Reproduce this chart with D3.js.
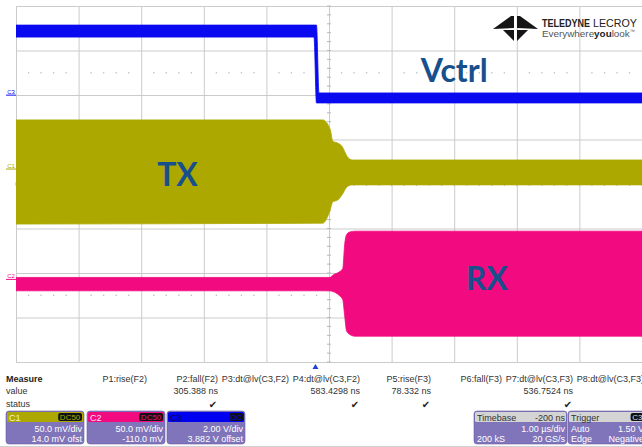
<!DOCTYPE html>
<html><head><meta charset="utf-8">
<script src="https://cdn.jsdelivr.net/npm/d3@7"></script>
<style>body{margin:0;background:#fff}svg{display:block}</style>
</head><body><svg id="c" width="642" height="447"></svg>
<script>
// ---------------- data ----------------
// C3 (Vctrl), volts
const timeC3 = [-4.80, -0.04, 0.00, 0.04, 5.20];
const c3Hi   = [3.26, 3.26, 3.26, 0.21, 0.21];
const c3Lo   = [2.72, 2.72, -0.24, -0.24, -0.24];
// C1 (TX), mV envelope
const timeC1 = [-4.80, 0.10, 0.22, 0.26, 0.34, 0.41, 0.49, 0.57, 5.20];
const c1Hi   = [58, 58, 47, 34, 32, 28, 17, 13, 13];
const c1Lo   = [-59, -58, -43, -34, -32, -26, -17, -15, -15];
// C2 (RX), mV envelope
const timeC2 = [-4.80, 0.21, 0.27, 0.36, 0.42, 0.45, 0.48, 0.53, 0.62, 5.20];
const c2Hi   = [5, 5, 8, 11, 15, 42, 53, 56, 57, 57];
const c2Lo   = [-10, -10, -11, -15, -20, -38, -55, -59, -61, -61];

const channelNames   = ["C1", "C2", "C3"];
const channelVdiv    = [50, 50, 2];        // mV/div, mV/div, V/div
const channelOffset  = [14, -110, 3.882];
const channelCoupling= ["DC50", "DC50", "DC"];
const channelScaleTx = ["50.0 mV/div", "50.0 mV/div", "2.00 V/div"];
const channelOfstTx  = ["14.0 mV ofst", "-110.0 mV", "3.882 V offset"];
const traceLabels    = ["TX", "RX", "Vctrl"];

const measHeaders = ["P1:rise(F2)","P2:fall(F2)","P3:dt@lv(C3,F2)","P4:dt@lv(C3,F2)","P5:rise(F3)","P6:fall(F3)","P7:dt@lv(C3,F3)","P8:dt@lv(C3,F3)"];
const measValues  = ["","305.388 ns","","583.4298 ns","78.332 ns","","536.7524 ns",""];
const measStatus  = [false,true,false,true,true,false,true,false];

const timeDomain = [-4.8, 5.2];   // µs, 1.00 µs/div
const divTicks = d3.range(0, 11);
const vDivTicks = d3.range(-4, 5);

// ---------------- layout ----------------
const svg = d3.select("#c");
const L = 16, R = 642, T = 6, B = 362;
const cols = { olive: "#aca800", pink: "#f20a80", blue: "#0a0af0", label: "#17508c", grid: "#cbcbcb" };
const FONT = "'Liberation Sans', Arial, sans-serif";

const xDiv = d3.scaleLinear().domain([0, 10]).range([L, R]);
const yDiv = d3.scaleLinear().domain([-4, 4]).range([B, T]);
const xT = d3.scaleLinear().domain(timeDomain).range([L, R]);
function chScale(i) {
  const v = channelVdiv[i], o = channelOffset[i];
  return d3.scaleLinear().domain([-4 * v - o, 4 * v - o]).range([B, T]);
}
const yC1 = chScale(0), yC2 = chScale(1), yC3 = chScale(2);

// grid via axes
const gGrid = svg.append("g");
gGrid.append("g").attr("transform", `translate(0,${B})`)
  .call(d3.axisBottom(xDiv).tickValues(divTicks).tickSize(-(B - T)).tickFormat(""))
  .call(g => { g.select(".domain").remove(); g.selectAll("line").attr("stroke", cols.grid); });
gGrid.append("g").attr("transform", `translate(${L},0)`)
  .call(d3.axisLeft(yDiv).tickValues(vDivTicks).tickSize(-(R - L)).tickFormat(""))
  .call(g => { g.select(".domain").remove(); g.selectAll("line").attr("stroke", cols.grid); });

// dotted lines at ±2.5 div
[2.5, -2.5].forEach(d => {
  gGrid.selectAll(null).data(d3.range(0, 10.01, 0.2).filter(v => Math.abs(v - Math.round(v)) > 0.01))
    .enter().append("rect")
    .attr("x", v => xDiv(v) - 0.6).attr("y", yDiv(d) - 0.6).attr("width", 1.3).attr("height", 1.3)
    .attr("fill", "#bdbdbd");
});
// center crosshair minor ticks
gGrid.selectAll(null).data(d3.range(-4, 4.01, 0.2)).enter().append("line")
  .attr("x1", xDiv(5) - 2).attr("x2", xDiv(5) + 2)
  .attr("y1", d => yDiv(d)).attr("y2", d => yDiv(d)).attr("stroke", "#b8b8b8");
gGrid.selectAll(null).data(d3.range(0, 10.01, 0.2)).enter().append("line")
  .attr("y1", yDiv(0) - 2).attr("y2", yDiv(0) + 2)
  .attr("x1", d => xDiv(d)).attr("x2", d => xDiv(d)).attr("stroke", "#b8b8b8");

// clip
svg.append("clipPath").attr("id", "clip").append("rect")
  .attr("x", L).attr("y", T).attr("width", R - L).attr("height", B - T);
const gTr = svg.append("g").attr("clip-path", "url(#clip)");

function band(times, hi, lo, ys, color) {
  const pts = times.map((t, i) => ({ t, hi: hi[i], lo: lo[i] }));
  const area = d3.area().x(d => xT(d.t)).y0(d => ys(d.lo)).y1(d => ys(d.hi)).curve(d3.curveMonotoneX);
  gTr.append("path").datum(pts).attr("d", area).attr("fill", color)
    .attr("stroke", color).attr("stroke-width", 0.8);
}
band(timeC1, c1Hi, c1Lo, yC1, cols.olive);
band(timeC2, c2Hi, c2Lo, yC2, cols.pink);
band(timeC3, c3Hi, c3Lo, yC3, cols.blue);

// channel markers on left
const markerColors = [cols.olive, cols.pink, cols.blue];
const markerScales = [yC1, yC2, yC3];
channelNames.forEach((n, i) => {
  const y = markerScales[i](0) - 3;
  svg.append("text").attr("x", 11).attr("y", y - 1).attr("text-anchor", "middle")
    .attr("font-family", FONT).attr("font-size", 6).attr("fill", markerColors[i]).text(n);
  svg.append("line").attr("x1", 6).attr("x2", 16).attr("y1", y + 0.5).attr("y2", y + 0.5)
    .attr("stroke", markerColors[i]).attr("stroke-width", 1);
});

// trace labels
const labelFont = "Lato, 'Open Sans', sans-serif";
const labelPos = [
  { t: -2.22, v: yC1, val: -16 },
  { t: 2.72, v: yC2, val: -9 },
  { t: 2.20, v: yC3, val: 0.70 }
];
traceLabels.forEach((s, i) => {
  const p = labelPos[i];
  svg.append("text").attr("x", xT(p.t)).attr("y", p.v(p.val)).attr("text-anchor", "middle")
    .attr("font-family", labelFont).attr("font-weight", 700).attr("font-size", 32)
    .attr("fill", cols.label).text(s);
});

// trigger marker
const tx0 = xT(0) - 1;
svg.append("path").attr("d", `M${tx0 - 3},369 L${tx0 + 3},369 L${tx0},364 Z`).attr("fill", "#2040d8");

// logo
const gLogo = svg.append("g");
["M493,29 L511,16 L514,16 L514,28 Z", "M538,29 L520,16 L517,16 L517,28 Z",
 "M503,30 L514,30 L514,41 Z", "M528,30 L517,30 L517,41 Z"].forEach(d =>
  gLogo.append("path").attr("d", d).attr("fill", "#151515"));
gLogo.append("text").attr("x", 542).attr("y", 26.5).attr("font-family", FONT).attr("font-weight", 700)
  .attr("font-size", 11).attr("fill", "#222").attr("textLength", 48).attr("lengthAdjust", "spacingAndGlyphs")
  .text("TELEDYNE");
gLogo.append("text").attr("x", 593).attr("y", 26.5).attr("font-family", FONT)
  .attr("font-size", 11).attr("fill", "#222").attr("textLength", 44).attr("lengthAdjust", "spacingAndGlyphs")
  .text("LECROY");
gLogo.append("text").attr("x", 542).attr("y", 36.5).attr("font-family", FONT)
  .attr("font-size", 9.5).attr("fill", "#555").attr("textLength", 93).attr("lengthAdjust", "spacingAndGlyphs")
  .call(t => { t.append("tspan").text("Everywhere"); t.append("tspan").attr("font-weight", 700).attr("fill", "#222").text("you"); t.append("tspan").text("look"); t.append("tspan").attr("font-size", 5).attr("dy", -4).text("™"); });

// measurement table
const colRight = d3.scaleLinear().domain([0, 7]).range([147, 644]);
const gM = svg.append("g").attr("font-family", FONT).attr("font-size", 9).attr("fill", "#333");
gM.append("text").attr("x", 6).attr("y", 382).attr("font-weight", 700).attr("fill", "#222").text("Measure");
gM.append("text").attr("x", 6).attr("y", 394).text("value");
gM.append("text").attr("x", 6).attr("y", 407).text("status");
measHeaders.forEach((h, i) => {
  gM.append("text").attr("x", colRight(i)).attr("y", 382).attr("text-anchor", "end").text(h);
  if (measValues[i]) gM.append("text").attr("x", colRight(i)).attr("y", 394).attr("text-anchor", "end").text(measValues[i]);
  if (measStatus[i]) gM.append("text").attr("x", colRight(i) - 5).attr("y", 408).attr("text-anchor", "middle")
    .attr("font-family", "'DejaVu Sans'").attr("font-size", 10).attr("fill", "#222").text("\u2714");
});

// info boxes
const boxFill = "#8074ba";
function box(x, w, headColor, headText, headTextColor, rightHead, badge, badgeColor, l1, l2, r1, r2) {
  const g = svg.append("g").attr("font-family", FONT).attr("font-size", 9);
  g.append("rect").attr("x", x).attr("y", 411).attr("width", w).attr("height", 33).attr("rx", 3)
    .attr("fill", boxFill).attr("stroke", "#6a5fa5").attr("stroke-width", 0.6);
  g.append("rect").attr("x", x + 1).attr("y", 412).attr("width", w - 2).attr("height", 10).attr("rx", 1.5).attr("fill", headColor);
  g.append("text").attr("x", x + 3).attr("y", 420.5).attr("fill", headTextColor).text(headText);
  if (rightHead) g.append("text").attr("x", x + w - 2).attr("y", 420.5).attr("text-anchor", "end").attr("fill", "#333").text(rightHead);
  if (badge) {
    const bw = badge.length * 5.2 + 3;
    g.append("rect").attr("x", x + w - 2 - bw).attr("y", 413).attr("width", bw).attr("height", 8).attr("rx", 2).attr("fill", "#111");
    g.append("text").attr("x", x + w - 2 - bw / 2).attr("y", 420).attr("text-anchor", "middle")
      .attr("font-size", 8).attr("fill", badgeColor).text(badge);
  }
  const tc = "#ffffff";
  if (r1) g.append("text").attr("x", x + w - 2).attr("y", 432).attr("text-anchor", "end").attr("fill", tc).text(r1);
  if (r2) g.append("text").attr("x", x + w - 2).attr("y", 442).attr("text-anchor", "end").attr("fill", tc).text(r2);
  if (l1) g.append("text").attr("x", x + 3).attr("y", 432).attr("fill", tc).text(l1);
  if (l2) g.append("text").attr("x", x + 3).attr("y", 442).attr("fill", tc).text(l2);
}
const boxX = [6, 87, 167];
const headCols = [cols.olive, cols.pink, "#0000f0"];
const headTextCols = ["#f4f2d0", "#ffe0f0", "#0a0a40"];
channelNames.forEach((n, i) => box(boxX[i], 78, headCols[i], n, headTextCols[i], null,
  channelCoupling[i], headCols[i], null, null, channelScaleTx[i], channelOfstTx[i]));
box(474, 93, "#d4d4d4", "Timebase", "#333", "-200 ns", null, null, null, "200 kS", "1.00 µs/div", "20 GS/s");
box(568, 78, "#d4d4d4", "Trigger", "#333", null, "C3", "#ddd", "Auto", "Edge", "1.50 V", "Negative");
svg.append("line").attr("x1", 0).attr("x2", 642).attr("y1", 446.5).attr("y2", 446.5).attr("stroke", "#d0d0d0");
</script></body></html>
